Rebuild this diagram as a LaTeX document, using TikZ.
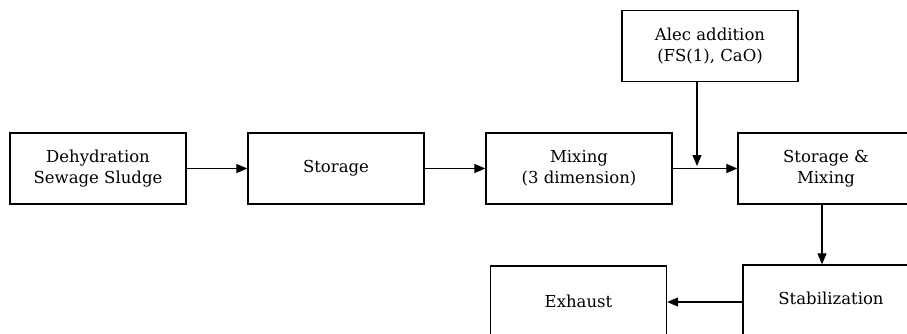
\documentclass[tikz,border=0pt]{standalone}
\usepackage{fontspec}
\setmainfont{DejaVu Serif}
\usetikzlibrary{arrows.meta,positioning}
\begin{document}
\begin{tikzpicture}[x=1pt,y=-1pt,>={Triangle[length=11pt,width=9pt]},
    box/.style={draw,line width=1.3pt,minimum width=176pt,minimum height=71pt,
        align=center,font=\fontsize{16.5}{21}\selectfont,inner sep=0pt},
    line/.style={->,line width=1.2pt}]
    \clip (0,0) rectangle (907,333);
    \useasboundingbox (0,0) rectangle (907,333);
    % top row
    \node[box] (dehyd) at (98,168.5) {Dehydration\\Sewage Sludge};
    \node[box] (store) at (336,168.5) {Storage};
    \node[box,minimum width=186pt] (mix) at (579,168.5) {Mixing\\(3 dimension)};
    \node[box] (stormix) at (826,168.5) {Storage \&\\Mixing};
    \node[box] (alec) at (710,46) {Alec addition\\(FS(1), CaO)};
    % bottom row
    \node[box] (stab) at (831,300.5) {Stabilization\vphantom{y}};
    \node[box] (exhaust) at (578.5,301.5) {Exhaust};
    \coordinate (join) at (697,166);
    \draw[line] (dehyd) -- (store);
    \draw[line] (store) -- (mix);
    \draw[line] (mix) -- (stormix);
    \draw[line] (alec.south -| join) -- (join);
    \draw[line] (stormix.south -| 822,0) -- (stab.north -| 822,0);
    \draw[line] (stab.west |- 0,302) -- (exhaust.east |- 0,302);
\end{tikzpicture}
\end{document}
